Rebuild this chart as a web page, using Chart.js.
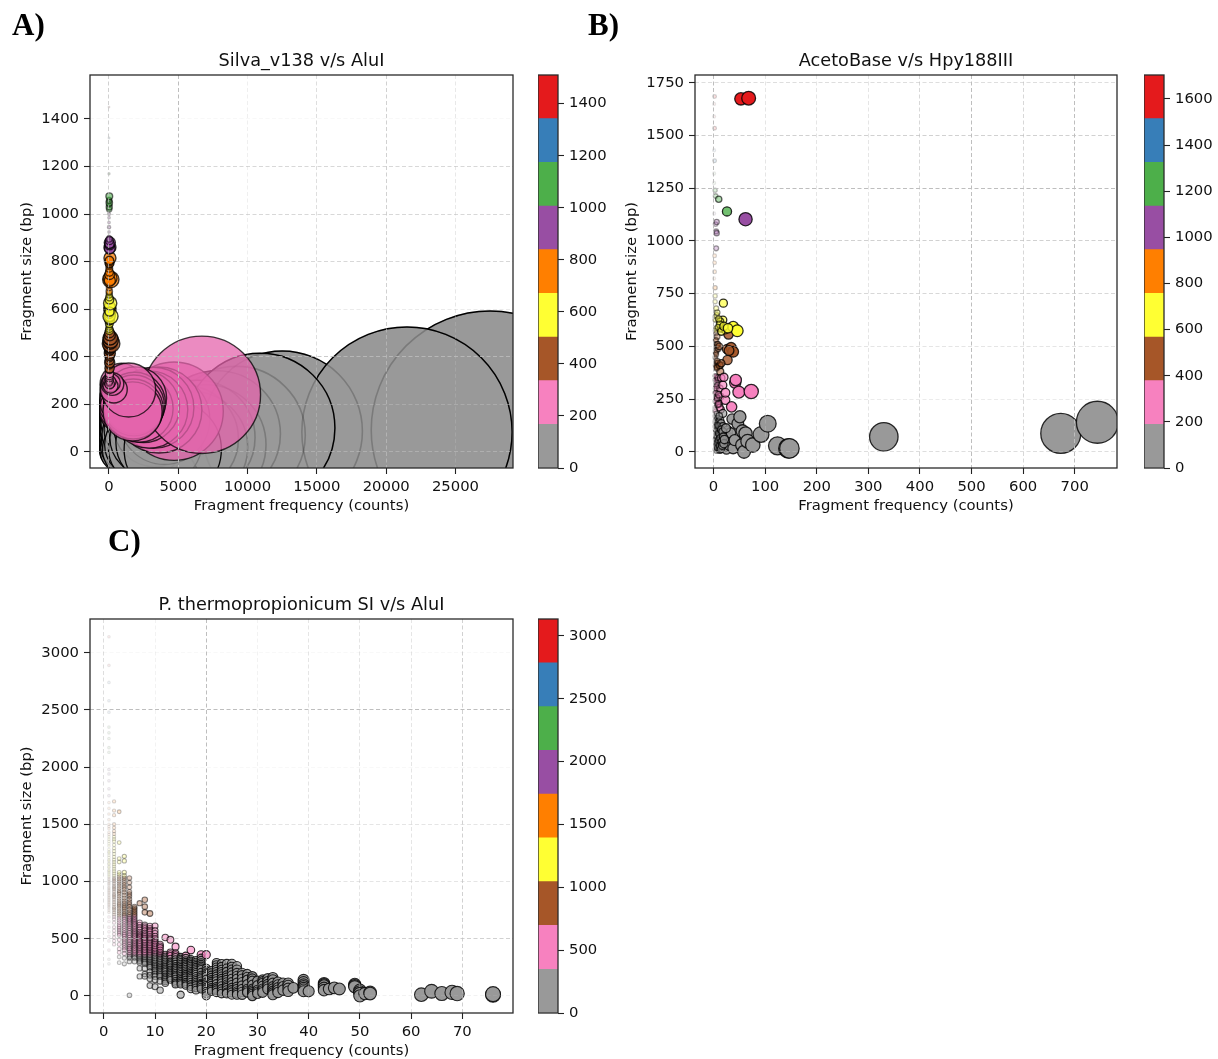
<!DOCTYPE html>
<html><head><meta charset="utf-8">
<script src="https://cdn.jsdelivr.net/npm/chart.js@4"></script>
<style>
html,body{margin:0;padding:0;background:#fff;width:1218px;height:1059px;overflow:hidden}
#fig{position:relative;width:1218px;height:1059px;filter:blur(0.4px)}
canvas{position:absolute}
.tag{position:absolute;font:bold 31px "Liberation Serif",serif;color:#000;line-height:32px}
</style></head><body><div id="fig">
<div class="tag" style="left:12px;top:9px">A)</div>
<div class="tag" style="left:588px;top:9px">B)</div>
<div class="tag" style="left:108px;top:525px">C)</div>
</div>
<script>
const SET1_REVERSED = ['#999999','#f781bf','#a65628','#ffff33','#ff7f00','#984ea3','#4daf4a','#377eb8','#e41a1c'];

const TITLE_A = 'Silva_v138 v/s AluI', TITLE_B = 'AcetoBase v/s Hpy188III', TITLE_C = 'P. thermopropionicum SI v/s AluI';
const X_LABEL = 'Fragment frequency (counts)', Y_LABEL = 'Fragment size (bp)';

const A_XTICKS = [0,5000,10000,15000,20000,25000];
const A_YTICKS = [0,200,400,600,800,1000,1200,1400];
const A_CBTICKS = [0,200,400,600,800,1000,1200,1400];
const B_XTICKS = [0,100,200,300,400,500,600,700];
const B_YTICKS = [0,250,500,750,1000,1250,1500,1750];
const B_CBTICKS = [0,200,400,600,800,1000,1200,1400,1600];
const C_XTICKS = [0,10,20,30,40,50,60,70];
const C_YTICKS = [0,500,1000,1500,2000,2500,3000];
const C_CBTICKS = [0,500,1000,1500,2000,2500,3000];

const A_XGRID = [.7,1,.25,.5,.7,.35], A_YGRID = [.6,.5,.8,.3,.6,.6,.6,.1];
const B_XGRID = [1,.4,.4,.4,.6,1,.6,1], B_YGRID = [.5,.3,.4,.6,.7,1,.7,.5];
const C_XGRID = [.5,.2,1,.2,.4,.4,.4,.7], C_YGRID = [.2,.7,.4,.4,.1,1,.1];

const A_SIZE_MAX = 1510, B_SIZE_MAX = 1704, C_SIZE_MAX = 3135;

/* Panel A: the largest grey fragments */
const A_BIG_FREQ = [27500,12500,21500,9200,7800,7000,6400,6000,5500,10900];
const A_BIG_SIZE = [92,87,83,70,75,30,60,20,55,100];
/* Panel A: the other grey fragments, low counts first */
const A_MID_FREQ = [30,35,40,45,50,55,60,65,70,75,80,85,90,95,100,105,110,115,120,125,130,135,140,145,150,155,160,165,170,175,180,185,190,195,200,205,210,215,225,230,240,245,250,260,270,280,285,290,300,310,320,330,340,350,360,370,380,390,400,410,420,430,440,450,460,470,480,500,510,520,530,550,560,580,590,600,620,640,660,680,700,740,760,800,850,900,950,1000,1050,1150,1250,1350,1500,1600,1700,1900,2000,2400,2600,2800,3300,3600,4000,4600];
const A_MID_SIZE = [115,160,70,30,145,82,105,10,35,146,55,68,125,54,15,128,90,22,160,98,45,142,75,12,135,84,25,158,110,26,60,118,5,62,150,102,80,150,35,38,120,78,165,25,50,120,15,92,48,140,14,70,128,30,72,105,33,155,96,8,162,55,50,125,8,85,136,20,66,145,88,45,28,115,155,3,112,70,42,160,12,18,100,35,130,60,5,150,90,25,120,50,75,10,140,95,30,120,15,60,110,40,138,10];
/* Panel A: everything above the grey class */
const A_REST_FREQ = [950,820,700,640,580,520,460,410,370,330,300,270,240,210,190,170,150,130,110,900,800,720,650,600,550,500,450,420,380,340,300,4700,3600,3200,2900,2500,2200,6700,1900,1850,1800,1750,1700,1420,350,250,160,110,70,45,30,18,25,30,35,28,42,30,50,38,30,45,60,40,55,38,70,45,100,150,90,120,70,100,60,45,30,25,18,20,30,25,45,55,65,45,60,22,40,60,30,50,70,60,110,40,85,35,25,18,14,20,16,24,18,25,20,130,90,60,45,30,22,18,30,40,35,70,35,15,70,55,45,60,40,30,18,4,3,5,3,3,4,14,18,12,20,15,10,22,2,1,1];
const A_REST_SIZE = [172,185,178,198,170,210,182,225,192,240,204,215,250,176,232,262,188,272,200,282,168,195,175,205,230,188,245,215,260,198,278,171,176,185,178,190,182,240,226,205,195,180,170,260,262,285,290,278,295,285,300,290,310,320,330,345,352,365,375,385,395,405,415,425,430,435,440,445,450,455,460,470,475,480,490,500,510,518,525,535,540,548,555,580,600,610,595,560,565,572,578,590,600,610,570,590,625,640,650,660,668,675,690,705,720,740,760,725,730,720,745,755,770,780,790,795,800,815,805,843,860,855,870,880,875,888,895,905,925,945,965,985,1000,1020,1030,1040,1048,1056,1062,1075,1170,1320,1450];

const B_FREQ = [2,1,1,2,1,1,1,4,2,3,4,5,6,5,1,2,1,2,3,2,3,6,3,4,5,2,3,5,4,6,7,5,4,6,7,6,8,9,8,11,7,6,3,2,5,4,3,8,9,13,12,13,6,10,14,5,12,4,3,5,4,3,7,9,10,15,3,3,6,9,7,5,4,8,5,6,4,12,9,3,2,3,3,4,4,5,5,6,6,6,7,7,8,8,9,9,10,10,11,11,12,12,13,13,14,14,15,15,16,17,17,18,18,19,20,20,22,22,24,25,26,28,30,32,33,3,4,5,6,7,8,9,10,11,12,13,14,15,16,17,18,19,20,21,24,36,38,41,47,51,55,56,59,62,66,76,92,105,124,145,147,330,673,744,23,18,20,23,35,42,43,49,73,26,27,29,34,38,12,30,15,6,7,11,19,18,23,13,38,46,14,12,10,7,5,4,9,15,20,28,26,6,62,10,53,68];
const B_SIZE = [1685,1590,1650,1535,1430,1320,1275,1213,1380,1240,1080,965,1090,1045,1130,854,822,897,778,930,739,648,712,625,585,625,640,562,530,498,546,467,443,420,403,355,277,340,221,229,250,300,190,210,330,360,280,315,350,261,300,380,260,230,200,240,210,280,340,310,300,240,255,225,270,350,198,450,480,490,510,530,470,510,460,395,410,410,420,360,10,170,120,60,150,30,100,180,5,70,130,45,160,15,90,115,35,145,60,125,8,80,150,110,50,25,95,135,70,15,40,182,120,60,30,90,20,55,75,10,45,100,30,65,90,140,105,75,40,20,125,55,85,170,28,65,12,105,48,30,95,70,38,58,112,155,16,55,134,166,32,98,0,87,50,32,82,133,28,16,16,71,87,140,245,316,353,280,213,327,340,283,286,487,435,557,494,474,410,480,420,400,430,500,705,625,580,617,593,574,585,605,630,660,680,575,590,570,595,586,1140,1037,1103,1198,1674,1677];

const C_COUNTS = [1,2,3,4,5,6,7,8,9,10,11,12,13,14,15,16,17,18,19,20,21,22,23,24,25,26,27,28,29,30,31,32,33,34,35,36,37,39,40,43,44,45,46,49,50,51,52,62,64,66,68,69,76];
const C_SIZES = [
 [3140,2890,2740,2580,2480,2350,2300,2250,2170,2130,1980,1940,1880,1810,1750,1690,1640,1590,1540,1500,1480,1460,1430,1410,1390,1370,1350,1330,1310,1280,1260,1250,1230,1210,1190,1180,1160,1150,1130,1120,1100,1090,1075,1060,1045,1030,1015,1000,985,970,950,935,920,905,890,875,860,845,830,815,800,785,770,750,730,690,650,600,560,520,480,400,320,280],
 [1700,1620,1580,1500,1470,1440,1415,1390,1370,1350,1320,1290,1265,1240,1215,1190,1170,1150,1130,1110,1090,1070,1050,1030,1015,1000,980,960,945,930,910,890,875,860,840,820,800,780,765,750,730,710,690,670,640,600,570,540,510,480,450],
 [1610,1340,1200,1170,1080,1060,1040,1020,1000,980,960,940,920,905,890,870,850,830,810,795,780,760,740,720,700,680,660,640,620,605,590,575,560,545,530,490,450,410,380,340,290],
 [1220,1180,1080,1050,1030,1010,990,970,950,930,905,880,855,830,810,790,775,760,740,720,705,690,670,650,630,610,590,570,550,535,520,500,480,460,440,420,400,370,330,280],
 [1030,990,950,910,890,870,845,820,800,780,755,730,710,690,675,660,645,630,610,590,570,550,530,510,490,470,450,430,415,400,380,360,345,330,300,5],
 [780,765,750,735,720,705,690,675,660,645,630,615,600,585,570,555,540,525,510,495,480,465,450,435,420,405,390,375,360,345,330,300],
 [810,640,620,600,580,560,545,530,520,510,495,480,465,450,435,420,405,390,375,360,340,320,305,290,240,170],
 [840,780,730,620,605,590,570,550,535,520,505,490,475,460,445,430,415,400,385,370,355,340,325,310,295,280,240,190,170],
 [720,610,590,575,560,540,520,505,490,475,460,445,430,415,400,385,370,355,340,325,310,295,280,265,250,210,180,150,90],
 [610,570,545,520,500,480,465,450,435,420,405,390,375,360,345,330,315,300,285,270,255,240,225,210,190,170,140,80],
 [450,435,420,400,380,365,350,335,320,305,290,275,260,245,230,215,200,185,170,130,50],
 [510,360,345,330,315,300,285,270,255,240,225,210,190,170,155,140,125,110],
 [490,380,365,350,325,300,285,270,250,230,215,200,185,170,155,140],
 [430,370,355,340,320,300,280,260,245,230,215,200,185,170,150,130,115,100],
 [340,325,310,295,280,265,250,235,220,205,190,175,160,145,130,115,100,10],
 [350,330,310,295,280,265,250,235,220,205,190,175,160,140,120,105,90],
 [400,320,305,290,275,260,245,230,215,200,185,170,155,140,120,100,80,60],
 [310,295,280,265,250,235,220,205,190,170,150,135,120,105,90,70,50],
 [360,330,310,290,275,260,245,230,205,180,165,150,130,110,100,90,75,60],
 [360,240,220,200,185,170,145,120,105,90,75,60,40,20,0],
 [220,200,180,160,140,125,110,90,70,55,40],
 [290,270,250,230,210,190,170,150,130,105,80,65,50,30],
 [280,255,230,210,190,170,150,130,110,85,60,40,20],
 [280,240,210,180,160,140,120,100,85,70,50,30,20],
 [280,255,230,205,180,150,120,95,70,50,30,10],
 [260,230,200,175,150,115,80,60,40,25,10],
 [200,180,150,120,90,60,35,10],
 [190,165,140,100,60,45,30],
 [170,150,130,95,60,45,30,15,0],
 [130,90,50,35,20],
 [140,125,110,85,60,45,30],
 [150,125,100,80,60],
 [160,140,110,80,60,40,25,10],
 [120,95,70,50,30],
 [110,80,50],
 [110,90,65,40],
 [70],
 [140,120,100,85,70,55,40],
 [40],
 [110,100,90,70,50],
 [60],
 [70],
 [60],
 [100,90,80],
 [50,35,20,0],
 [20],
 [30,20],
 [10],[40],[20],[30],[20],[10,15]
];

function rgba(hex,a){const n=parseInt(hex.slice(1),16);return `rgba(${n>>16},${(n>>8)&255},${n&255},${a})`;}
function binColor(y,max){return SET1_REVERSED[Math.min(8,Math.max(0,Math.floor(y/(max/9))))];}
const pts=(xs,ys)=>xs.map((x,i)=>({x,y:ys[i]}));

const framePlugin={id:'frame',afterDraw(c){const a=c.chartArea,g=c.ctx;g.save();g.strokeStyle='#2a2a2a';g.lineWidth=1.3;g.strokeRect(a.left,a.top,a.right-a.left,a.bottom-a.top);g.restore();}};

function addCanvas(l,t,w,h){const c=document.createElement('canvas');c.width=w;c.height=h;c.style.cssText=`left:${l}px;top:${t}px;width:${w}px;height:${h}px`;document.getElementById('fig').appendChild(c);return c;}

function scatter(box,title,xr,yr,xt,yt,xg,yg,datasets){
 const c=addCanvas(box.l,box.t,box.w,box.h);
 const gridColor=(ticks,gr)=>ctx=>{const i=ticks.indexOf(ctx.tick&&ctx.tick.value);return `rgba(190,190,190,${i<0?0:gr[i]})`;};
 const common=(ticks,gr)=>({
  afterBuildTicks(s){s.ticks=ticks.map(value=>({value}));},
  grid:{z:1,color:gridColor(ticks,gr),lineWidth:1,tickColor:'#222',tickWidth:1.1,tickLength:6,drawTicks:true},
  border:{display:false,dash:[4,2.5]},
 });
 new Chart(c,{type:'scatter',data:{datasets},plugins:[framePlugin],options:{
  responsive:false,animation:false,devicePixelRatio:1,
  layout:{autoPadding:false,padding:{right:box.w-box.pr,left:0,top:0,bottom:0}},
  plugins:{legend:{display:false},tooltip:{enabled:false},title:{display:false}},
  scales:{
   x:{type:'linear',min:xr[0],max:xr[1],...common(xt,xg),afterFit(s){s.height=50;},
      ticks:{includeBounds:false,autoSkip:false,maxRotation:0,color:'#111',padding:4,font:{family:'DejaVu Sans',size:14.8},callback:v=>String(v)},
      title:{display:true,text:X_LABEL,color:'#111',font:{family:'DejaVu Sans',size:14.8,lineHeight:'18px'},padding:{top:0,bottom:3}}},
   heading:{type:'linear',position:'top',axis:'x',min:0,max:1,afterBuildTicks(s){s.ticks=[];},afterFit(s){s.height=30;},
      grid:{display:false,drawTicks:false},border:{display:false},ticks:{display:false},
      title:{display:true,text:title,color:'#111',font:{family:'DejaVu Sans',size:17.7,weight:'normal',lineHeight:'20px'},padding:{top:6,bottom:4}}},
   y:{type:'linear',min:yr[0],max:yr[1],...common(yt,yg),afterFit(s){s.width=90;},
      ticks:{includeBounds:false,autoSkip:false,color:'#111',padding:5,font:{family:'DejaVu Sans',size:14.8},callback:v=>String(v)},
      title:{display:true,text:Y_LABEL,color:'#111',font:{family:'DejaVu Sans',size:14.8,lineHeight:'18px'},padding:{top:18,bottom:0}}}
  }}});
}

function colorbar(l,t,h,max,ticks){
 const pad=24,w=80,c=addCanvas(l,t-pad,w,h+2*pad);
 const step=max/9;
 new Chart(c,{type:'bar',data:{labels:[''],datasets:SET1_REVERSED.map((col,i)=>({data:[[i*step,(i+1)*step]],backgroundColor:col,borderWidth:0}))},
  plugins:[framePlugin],options:{
  responsive:false,animation:false,devicePixelRatio:1,
  layout:{autoPadding:false,padding:{top:pad,bottom:pad,left:0,right:0}},
  plugins:{legend:{display:false},tooltip:{enabled:false},title:{display:false}},
  datasets:{bar:{grouped:false,barPercentage:1,categoryPercentage:1}},
  scales:{
   x:{display:false,stacked:false},
   y:{position:'right',min:0,max,afterBuildTicks(s){s.ticks=ticks.map(value=>({value}));},afterFit(s){s.width=60;},
      grid:{drawOnChartArea:false,tickColor:'#222',tickWidth:1.1,tickLength:6},border:{display:false},
      ticks:{includeBounds:false,autoSkip:false,color:'#111',padding:5,font:{family:'DejaVu Sans',size:14.8},callback:v=>String(v)}}
  }}});
}

function pointStyle(max,k,extra,alphaFn,fillFn,edgeFn,bw){
 const r=ctx=>k*Math.sqrt(ctx.raw.x)+extra;
 return {
  backgroundColor:ctx=>{const p=ctx.raw;return fillFn(binColor(p.y,max),alphaFn(p.x));},
  borderColor:ctx=>`rgba(0,0,0,${edgeFn(alphaFn(ctx.raw.x))})`,
  borderWidth:bw,
  radius:r,hoverRadius:r,pointRadius:r,
  clip:0,showLine:false
 };
}

/* Panel A */
const aK=0.717;
const aFill=(hex,a)=>hex==='#f781bf'&&a>=.75?`rgba(228,100,172,${a})`:rgba(hex,a);
scatter({l:0,t:45,w:523,h:473,pr:513},TITLE_A,[-1370,29150],[-68,1585],A_XTICKS,A_YTICKS,A_XGRID,A_YGRID,[
 {data:pts(A_REST_FREQ,A_REST_SIZE),order:1,...pointStyle(A_SIZE_MAX,aK,0,f=>Math.min(.75,Math.max(.06,Math.sqrt(f)/8)),aFill,a=>a,1.4)},
 {data:pts(A_MID_FREQ,A_MID_SIZE),order:2,...pointStyle(A_SIZE_MAX,aK,0,f=>.8,rgba,a=>.95,1.3)},
 {data:pts(A_BIG_FREQ,A_BIG_SIZE),order:3,clip:0,showLine:false,backgroundColor:'rgba(0,0,0,0)',borderColor:'rgba(0,0,0,0.2)',borderWidth:1.6,
  radius:ctx=>aK*Math.sqrt(ctx.raw.x),pointRadius:ctx=>aK*Math.sqrt(ctx.raw.x)},
 {data:pts(A_BIG_FREQ,A_BIG_SIZE),order:4,...pointStyle(A_SIZE_MAX,aK,0,f=>1,rgba,a=>a,1.4)}
]);
colorbar(538,75,393,A_SIZE_MAX,A_CBTICKS);

/* Panel B */
const softEdge=a=>Math.min(.82,a*1.4);
scatter({l:605,t:45,w:522,h:473,pr:512},TITLE_B,[-36,782],[-77,1787],B_XTICKS,B_YTICKS,B_XGRID,B_YGRID,[
 {data:pts(B_FREQ,B_SIZE),...pointStyle(B_SIZE_MAX,0.74,.8,f=>Math.max(.06,Math.min(1,(Math.sqrt(f)-.75)/5.5)),rgba,softEdge,1.3)}
]);
colorbar(1144,75,393,B_SIZE_MAX,B_CBTICKS);

/* Panel C */
const C_FREQ=[],C_SIZE=[];
C_COUNTS.forEach((n,i)=>C_SIZES[i].forEach(s=>{C_FREQ.push(n);C_SIZE.push(s);}));
scatter({l:0,t:589,w:523,h:474,pr:513},TITLE_C,[-2.7,79.9],[-150,3295],C_XTICKS,C_YTICKS,C_XGRID,C_YGRID,[
 {data:pts(C_FREQ,C_SIZE),...pointStyle(C_SIZE_MAX,0.8,.5,f=>Math.max(.06,Math.min(1,(Math.sqrt(f)-.75)/5.5)),rgba,softEdge,1.1)}
]);
colorbar(538,619,394,C_SIZE_MAX,C_CBTICKS);
</script></body></html>
